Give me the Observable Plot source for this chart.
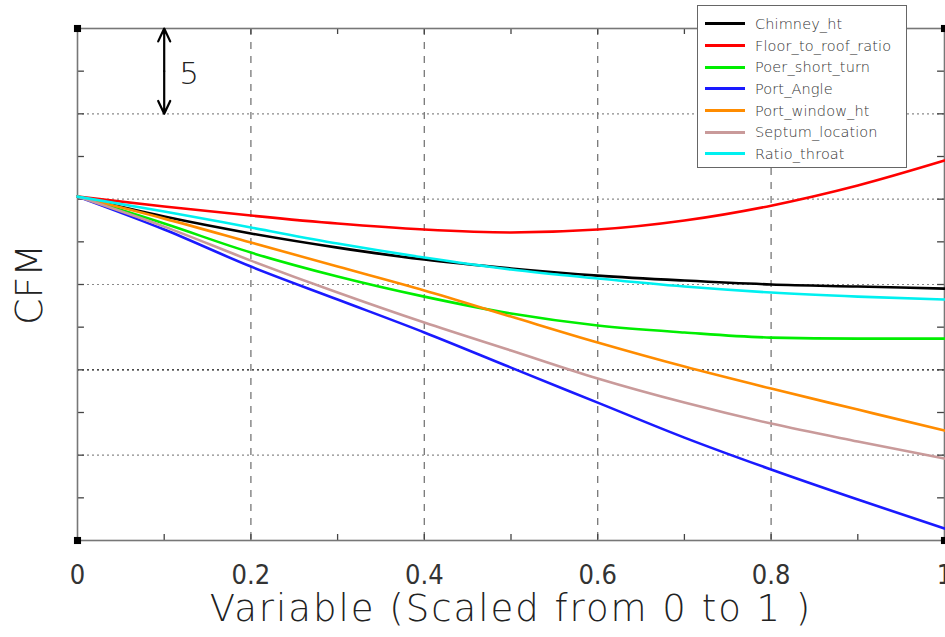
<!DOCTYPE html>
<html>
<head>
<meta charset="utf-8">
<script src="https://cdn.jsdelivr.net/npm/d3@7"></script>
<script src="https://cdn.jsdelivr.net/npm/@observablehq/plot@0.6"></script>
<style>
  html, body { margin: 0; padding: 0; background: #fff; }
  #wrap { position: relative; width: 945px; height: 637px; }
  #legend {
    position: absolute; left: 697px; top: 5px; width: 210px; height: 163px;
    background: #fff; border: 1.5px solid #666; box-sizing: border-box;
    font-family: "DejaVu Sans Light", "DejaVu Sans", sans-serif; font-weight: 200;
    font-size: 14.5px; color: #333; letter-spacing: 0.1px;
    padding-top: 7px;
  }
  .row { display: flex; align-items: center; height: 21.7px; }
  .sw { width: 40px; height: 3px; margin-left: 7px; margin-right: 10px; }
  #wrap svg g[font-size="37"] text { letter-spacing: 2px; }
</style>
</head>
<body>
<div id="wrap"><div id="legend"></div></div>
<script>
// ---- data ----
const xs = [0, 0.1, 0.2, 0.3, 0.4, 0.5, 0.6, 0.7, 0.8, 0.9, 1.0];
const seriesNames = ["Chimney_ht", "Floor_to_roof_ratio", "Poer_short_turn", "Port_Angle", "Port_window_ht", "Septum_location", "Ratio_throat"];
const seriesColors = ["#000000", "#ff0000", "#00ee00", "#1a1aff", "#ff8c00", "#c99a9a", "#00f0f0"];
const chimneyHt        = [20.15, 18.98, 17.99, 17.16, 16.46, 15.94, 15.52, 15.23, 15.00, 14.88, 14.76];
const floorToRoofRatio = [20.15, 19.57, 19.04, 18.57, 18.22, 18.05, 18.22, 18.75, 19.62, 20.80, 22.26];
const poerShortTurn    = [20.15, 18.57, 16.87, 15.47, 14.29, 13.30, 12.60, 12.19, 11.89, 11.83, 11.83];
const portAngle        = [20.15, 18.22, 16.05, 14.12, 12.19, 10.13, 8.08, 6.03, 4.16, 2.40, 0.70];
const portWindowHt     = [20.15, 18.86, 17.46, 16.05, 14.65, 13.12, 11.60, 10.19, 8.90, 7.67, 6.44];
const septumLocation   = [20.15, 18.39, 16.40, 14.53, 12.77, 11.13, 9.49, 8.08, 6.85, 5.80, 4.80];
const ratioThroat      = [20.15, 19.28, 18.34, 17.40, 16.58, 15.88, 15.35, 14.88, 14.53, 14.29, 14.12];
const seriesValues = [chimneyHt, floorToRoofRatio, poerShortTurn, portAngle, portWindowHt, septumLocation, ratioThroat];

const xTicks = [0, 0.2, 0.4, 0.6, 0.8, 1];
const xTickLabels = ["0", "0.2", "0.4", "0.6", "0.8", "1"];
const xMinor = [0.1, 0.2, 0.3, 0.4, 0.5, 0.6, 0.7, 0.8, 0.9];
const xGrid = [0.2, 0.4, 0.6, 0.8];
const yGrid = [5, 10, 15, 20, 25];
const yMinor = [2.5, 5, 7.5, 10, 12.5, 15, 17.5, 20, 22.5, 25, 27.5];
const yDomain = [0, 30];
const scaleArrow = {x: 0.1, from: 25, to: 30, label: "5"};
const corners = [{x: 0, y: 0}, {x: 0, y: 30}, {x: 1, y: 0}, {x: 1, y: 30}];

// ---- build table ----
const rows = [];
seriesNames.forEach((name, i) => {
  seriesValues[i].forEach((v, j) => rows.push({series: name, x: xs[j], y: v}));
});
const mid = (scaleArrow.from + scaleArrow.to) / 2;

const fontWide = "'DejaVu Sans Light', 'DejaVu Sans', sans-serif";
const fontNarrow = "'DejaVu Sans Condensed', 'DejaVu Sans', sans-serif";

const chart = Plot.plot({
  width: 945,
  height: 637,
  marginLeft: 77,
  marginRight: 1,
  marginTop: 28,
  marginBottom: 97,
  style: {fontFamily: fontWide, background: "#fff", fontWeight: 200, color: "#222"},
  x: {domain: [0, 1], axis: null},
  y: {domain: yDomain, axis: null},
  color: {domain: seriesNames, range: seriesColors},
  marks: [
    Plot.ruleY(yGrid, {stroke: d => d === 10 ? "#111" : "#8a8a8a", strokeDasharray: "2,3", strokeWidth: 1.2}),
    Plot.ruleX(xGrid, {stroke: "#777", strokeDasharray: "7,7", strokeWidth: 1.3}),
    // inward ticks
    Plot.ruleY(yMinor, {x1: 0, x2: 0.008, stroke: "#444", strokeWidth: 1.3}),
    Plot.ruleY(yMinor, {x1: 0.992, x2: 1, stroke: "#444", strokeWidth: 1.3}),
    Plot.ruleX(xMinor, {y1: 0, y2: 0.35, stroke: "#444", strokeWidth: 1.3}),
    Plot.ruleX(xMinor, {y1: 29.65, y2: 30, stroke: "#444", strokeWidth: 1.3}),
    Plot.frame({stroke: "#777", strokeWidth: 1.6}),
    Plot.line(rows, {x: "x", y: "y", z: "series", stroke: "series", strokeWidth: 2.6, curve: "monotone-x"}),
    Plot.dot(corners, {x: "x", y: "y", symbol: "square", r: 4, fill: "#000"}),
    // scale arrow
    Plot.arrow([scaleArrow], {x1: "x", x2: "x", y1: () => mid, y2: "to", stroke: "#000", strokeWidth: 2.2, headLength: 14, headAngle: 50}),
    Plot.arrow([scaleArrow], {x1: "x", x2: "x", y1: () => mid, y2: "from", stroke: "#000", strokeWidth: 2.2, headLength: 14, headAngle: 50}),
    Plot.text([scaleArrow], {x: "x", y: () => mid, text: "label", dx: 25, dy: 3, fontSize: 31, fontFamily: fontWide, textAnchor: "middle", fill: "#222"}),
    // x tick labels
    Plot.text(xTicks, {x: d => d, y: yDomain[0], text: (d, i) => xTickLabels[i], dy: 35, fontSize: 27, fontFamily: fontNarrow, textAnchor: "middle", lineAnchor: "middle", fill: "#333"}),
    // axis titles
    Plot.text(["Variable (Scaled from 0 to 1 )"], {frameAnchor: "bottom", dy: 69, fontSize: 37, fontFamily: fontWide, textAnchor: "middle", lineAnchor: "middle", fill: "#222"}),
    Plot.text(["CFM"], {frameAnchor: "left", dx: -48, rotate: -90, fontSize: 38, fontFamily: fontWide, textAnchor: "middle", lineAnchor: "middle", fill: "#222"})
  ]
});
document.getElementById("wrap").prepend(chart);

// ---- legend ----
const legend = document.getElementById("legend");
seriesNames.forEach((name, i) => {
  const row = document.createElement("div");
  row.className = "row";
  const sw = document.createElement("span");
  sw.className = "sw";
  sw.style.background = seriesColors[i];
  const t = document.createElement("span");
  t.textContent = name;
  row.append(sw, t);
  legend.append(row);
});
</script>
</body>
</html>
